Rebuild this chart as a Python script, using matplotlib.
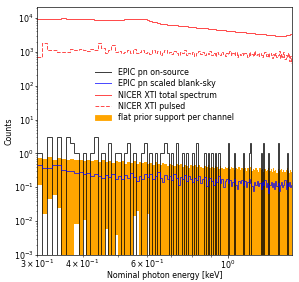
import numpy as np
import matplotlib
matplotlib.use("Agg")
from matplotlib import pyplot as plt
from matplotlib.lines import Line2D
from matplotlib.patches import Patch

# channel grid: 10 eV channels starting at 0.30 keV
e_start = 0.30
e_width = 0.01
n_chan = 120

# EPIC pn on-source counts per channel
epic_on = [1, 0, 3, 0, 3, 0, 3, 2, 1, 0,
           1, 0, 1, 3, 0, 1, 0, 2, 0, 1,
           1, 0, 1, 2, 0, 1, 0, 0, 1, 2,
           0, 1, 0, 1, 0, 1, 1, 2, 1, 0,
           1, 0, 2, 0, 0, 1, 0, 1, 0, 0,
           1, 0, 2, 0, 0, 0, 1, 0, 1, 0,
           1, 0, 1, 0, 1, 0, 0, 0, 0, 0,
           2, 0, 0, 0, 1, 0, 0, 0, 0, 0,
           1, 0, 0, 0, 1, 2, 0, 0, 0, 0,
           0, 0, 0, 1, 0, 2, 0, 0, 0, 1,
           0, 0, 0, 0, 0, 0, 0, 2, 0, 0,
           0, 0, 0, 0, 0, 1, 0, 0, 0, 0]

# EPIC pn scaled blank-sky background
epic_bkg = [0.44, 0.36, 0.36, 0.45, 0.44, 0.33, 0.30, 0.31, 0.27, 0.28,
            0.24, 0.27, 0.22, 0.25, 0.21, 0.19, 0.23, 0.20, 0.24, 0.18,
            0.21, 0.17, 0.23, 0.19, 0.26, 0.20, 0.15, 0.22, 0.18, 0.24,
            0.20, 0.25, 0.17, 0.21, 0.28, 0.19, 0.14, 0.23, 0.18, 0.22,
            0.16, 0.24, 0.19, 0.12, 0.20, 0.17, 0.23, 0.15, 0.21, 0.18,
            0.14, 0.19, 0.16, 0.22, 0.13, 0.17, 0.20, 0.11, 0.16, 0.19,
            0.15, 0.12, 0.18, 0.14, 0.21, 0.13, 0.17, 0.10, 0.15, 0.18,
            0.13, 0.16, 0.11, 0.14, 0.17, 0.12, 0.09, 0.15, 0.13, 0.16,
            0.12, 0.15, 0.10, 0.14, 0.17, 0.13, 0.11, 0.08, 0.14, 0.12,
            0.15, 0.11, 0.13, 0.09, 0.14, 0.12, 0.16, 0.10, 0.13, 0.07,
            0.12, 0.14, 0.10, 0.13, 0.09, 0.15, 0.11, 0.13, 0.08, 0.12,
            0.14, 0.10, 0.12, 0.16, 0.09, 0.13, 0.11, 0.14, 0.10, 0.12]

# NICER XTI total spectrum
nicer_tot = [9250, 9300, 9350, 9450, 9550, 9650, 9600, 9500, 9400, 9300,
             9200, 9100, 9000, 8900, 8800, 8750, 8700, 8700, 8700, 8750,
             8800, 8900, 9000, 9100, 9200, 9250, 9300, 9300, 9250, 9000,
             8450, 8150, 7800, 7450, 7100, 6800, 6550, 6400, 6300, 6220,
             6140, 6060, 5980, 5900, 5820, 5740, 5660, 5580, 5500, 5410,
             5320, 5250, 5180, 5120, 5060, 5000, 4930, 4870, 4810, 4750,
             4690, 4640, 4590, 4530, 4480, 4430, 4380, 4330, 4280, 4230,
             4180, 4140, 4100, 4060, 4010, 3970, 3930, 3890, 3850, 3810,
             3770, 3740, 3700, 3670, 3630, 3600, 3570, 3530, 3500, 3460,
             3430, 3400, 3370, 3340, 3310, 3280, 3250, 3220, 3190, 3160,
             3140, 3110, 3090, 3070, 3040, 3020, 3000, 2980, 2960, 2940,
             2920, 2930, 2960, 3000, 3050, 3100, 3160, 3220, 3280, 3340]

# NICER XTI pulsed
nicer_pulsed = [680, 1800, 1150, 1150, 1000, 980, 1000, 1200, 1100, 1250,
                1100, 1050, 1200, 1100, 1850, 1300, 950, 1100, 1600, 1000,
                1050, 900, 1000, 1150, 950, 1250, 900, 1000, 1100, 950,
                1000, 870, 1100, 950, 1050, 800, 980, 1150, 900, 1000,
                850, 1050, 950, 780, 1000, 900, 1100, 820, 950, 880,
                1000, 760, 920, 1050, 850, 980, 800, 930, 870, 1020,
                820, 950, 760, 1000, 880, 800, 960, 850, 740, 920,
                860, 1050, 780, 900, 830, 960, 720, 880, 810, 940,
                780, 900, 850, 700, 960, 820, 880, 760, 1050, 800,
                870, 740, 920, 810, 690, 880, 1000, 760, 850, 720,
                900, 780, 660, 840, 760, 950, 700, 820, 1080, 640,
                860, 720, 980, 600, 820, 700, 900, 540, 760, 480]

# flat prior support per channel (upper / lower bound, 0 = unbounded below)
prior_hi = [0.75, 0.70, 0.78, 0.66, 0.72, 0.68, 0.64, 0.70, 0.62, 0.66,
            0.60, 0.66, 0.58, 0.64, 0.56, 0.62, 0.55, 0.60, 0.53, 0.58,
            0.54, 0.60, 0.50, 0.56, 0.52, 0.58, 0.48, 0.54, 0.51, 0.56,
            0.48, 0.53, 0.46, 0.55, 0.50, 0.45, 0.52, 0.48, 0.43, 0.50,
            0.46, 0.42, 0.50, 0.44, 0.48, 0.40, 0.46, 0.43, 0.38, 0.45,
            0.42, 0.46, 0.39, 0.44, 0.41, 0.37, 0.43, 0.40, 0.45, 0.38,
            0.41, 0.36, 0.43, 0.39, 0.35, 0.42, 0.38, 0.34, 0.40, 0.37,
            0.39, 0.34, 0.41, 0.36, 0.33, 0.38, 0.35, 0.40, 0.32, 0.37,
            0.34, 0.38, 0.31, 0.36, 0.33, 0.39, 0.30, 0.35, 0.32, 0.37,
            0.33, 0.29, 0.36, 0.32, 0.34, 0.28, 0.35, 0.31, 0.33, 0.38,
            0.30, 0.34, 0.28, 0.36, 0.31, 0.33, 0.27, 0.34, 0.30, 0.32,
            0.35, 0.29, 0.33, 0.28, 0.32, 0.36, 0.30, 0.27, 0.33, 0.29]
prior_lo = [0.12, 0.016, 0.045, 0.06, 0.025, 0, 0, 0, 0.008, 0,
            0.011, 0, 0, 0, 0, 0, 0.006, 0, 0, 0.004,
            0, 0, 0, 0, 0, 0.014, 0.02, 0, 0, 0,
            0.016, 0, 0, 0, 0, 0, 0, 0, 0, 0] + [0] * 80

edges = np.round(e_start + e_width * np.arange(n_chan + 1), 3)
tiny = 1e-6
fs = 9.5

fig = plt.figure(figsize=(299 / 60, 282 / 60), dpi=60)
ax = fig.add_subplot(111)
fig.subplots_adjust(left=37 / 299, right=292 / 299, bottom=1 - 255 / 282, top=1 - 7 / 282)

ax.set_xscale('log')
ax.set_yscale('log')

lo = np.maximum(np.array(prior_lo, dtype=float), tiny)
ax.stairs(prior_hi, edges, baseline=lo, fill=True, color='orange', zorder=1)
ax.stairs(np.maximum(epic_on, tiny), edges, baseline=None, color='k', alpha=0.75, lw=1.2, zorder=2)
ax.stairs(epic_bkg, edges, baseline=None, color='b', alpha=0.7, lw=1.2, zorder=3)
ax.stairs(nicer_tot, edges, baseline=None, color='r', alpha=0.7, lw=1.2, zorder=2)
ax.stairs(nicer_pulsed, edges, baseline=None, color='r', alpha=0.7, lw=1.2, ls='--', zorder=2)

ax.set_xlim(0.3, 1.5)
ax.set_ylim(1e-3, 2.1e4)
ax.set_xlabel('Nominal photon energy [keV]', fontsize=fs, labelpad=0.5)
ax.set_ylabel('Counts', fontsize=fs, labelpad=0.5)
ax.tick_params(which='major', length=3, pad=1)
ax.tick_params(which='minor', length=1.8, pad=1)
ax.tick_params(which='both', labelsize=fs)

handles = [Line2D([], [], color='k', alpha=0.75, lw=1.2),
           Line2D([], [], color='b', alpha=0.7, lw=1.2),
           Line2D([], [], color='r', alpha=0.7, lw=1.2),
           Line2D([], [], color='r', alpha=0.7, lw=1.2, ls='--'),
           Patch(color='orange')]
labels = ['EPIC pn on-source', 'EPIC pn scaled blank-sky', 'NICER XTI total spectrum',
          'NICER XTI pulsed', 'flat prior support per channel']
ax.legend(handles, labels, loc='center', bbox_to_anchor=(0.5, 0.645), frameon=False,
          fontsize=fs, labelspacing=0.3)

fig.savefig('out.png', dpi=60)
